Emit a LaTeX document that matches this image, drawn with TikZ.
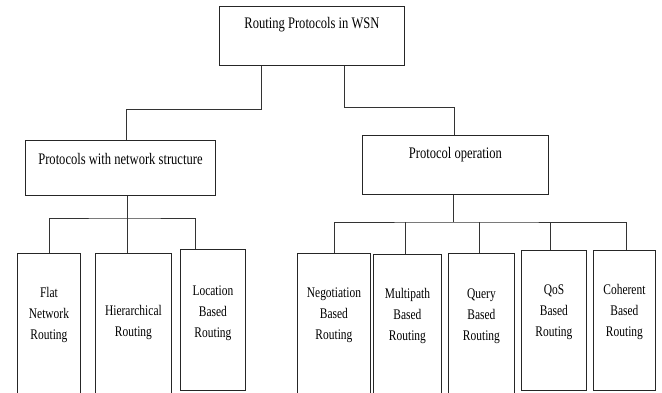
\documentclass[tikz,border=0pt]{standalone}
\usepackage{fontspec}
\setmainfont{Liberation Serif}[FakeStretch=0.78]
\begin{document}
\begin{tikzpicture}[x=1pt,y=-1pt,
  box/.style={draw=black!85,line width=0.9pt,rectangle,inner sep=0pt,anchor=north west},
  toptext/.style={font=\fontsize{16.1}{18}\selectfont,anchor=center,inner sep=0pt},
  leaftext/.style={font=\fontsize{14.7}{21}\selectfont,align=center,anchor=center,inner sep=0pt},
  link/.style={draw=black!80,line width=0.9pt}]
\useasboundingbox (0,0) rectangle (662,392);
\clip (0,0) rectangle (662,392);
% main boxes
\node[box,minimum width=185pt,minimum height=59pt] (top) at (219,6) {};
\node[toptext] at ([yshift=-19pt]top.north) {Routing Protocols in WSN};
\node[box,minimum width=190pt,minimum height=55pt] (pws) at (25,140) {};
\node[toptext] at ([yshift=-19pt]pws.north) {Protocols with network structure};
\node[box,minimum width=186pt,minimum height=59pt] (po) at (362,135) {};
\node[toptext] at ([yshift=-20pt]po.north) {Protocol operation};
% leaf boxes
\node[box,minimum width=63pt,minimum height=150pt] (flat) at (17,253) {};
\node[box,minimum width=76pt,minimum height=150pt] (hier) at (95,253) {};
\node[box,minimum width=65pt,minimum height=141pt] (loc) at (180,249) {};
\node[box,minimum width=73pt,minimum height=150pt] (neg) at (297,253) {};
\node[box,minimum width=68pt,minimum height=150pt] (mp) at (373,254) {};
\node[box,minimum width=66pt,minimum height=150pt] (qry) at (448,253) {};
\node[box,minimum width=65pt,minimum height=140pt] (qos) at (521,250) {};
\node[box,minimum width=62pt,minimum height=140pt] (coh) at (593,250) {};
% leaf texts
\node[leaftext] at ([yshift=-62pt]flat.north) {Flat\\Network\\Routing};
\node[leaftext] at ([yshift=-69pt]hier.north) {Hierarchical\\Routing};
\node[leaftext] at ([yshift=-64pt]loc.north) {Location\\Based\\Routing};
\node[leaftext] at ([yshift=-62pt]neg.north) {Negotiation\\Based\\Routing};
\node[leaftext] at ([yshift=-62pt]mp.north) {Multipath\\Based\\Routing};
\node[leaftext] at ([yshift=-63pt]qry.north) {Query\\Based\\Routing};
\node[leaftext] at ([yshift=-62pt]qos.north) {QoS\\Based\\Routing};
\node[leaftext] at ([yshift=-62pt]coh.north) {Coherent\\Based\\Routing};
% junction coordinates
\coordinate (j1) at (126,109);
\coordinate (j2) at (454,107);
\coordinate (bl) at (127,218);
\coordinate (br) at (453,222);
\coordinate (hiert) at ([xshift=-6pt]hier.north);
\coordinate (loct) at ([xshift=-17.5pt]loc.north);
\coordinate (mpt) at ([xshift=-2pt]mp.north);
\coordinate (qryt) at ([xshift=-2pt]qry.north);
\coordinate (qost) at ([xshift=-3.5pt]qos.north);
\coordinate (coht) at ([xshift=2pt]coh.north);
% connectors from top
\draw[link] ([xshift=-50.5pt]top.south) |- (j1) -- (j1 |- pws.north);
\draw[link] ([xshift=32.5pt]top.south) |- (j2) -- (j2 |- po.north);
% left group
\draw[link] (hiert |- pws.south) -- (hiert);
\draw[link] (flat.north) |- (bl) -| (loct);
% right group
\draw[link] (br |- po.south) -- (br);
\draw[link] (neg.north) |- (br) -| (coht);
\draw[link] (mpt) -- (mpt |- br);
\draw[link] (qryt) -- (qryt |- br);
\draw[link] (qost) -- (qost |- br);
\end{tikzpicture}
\end{document}
